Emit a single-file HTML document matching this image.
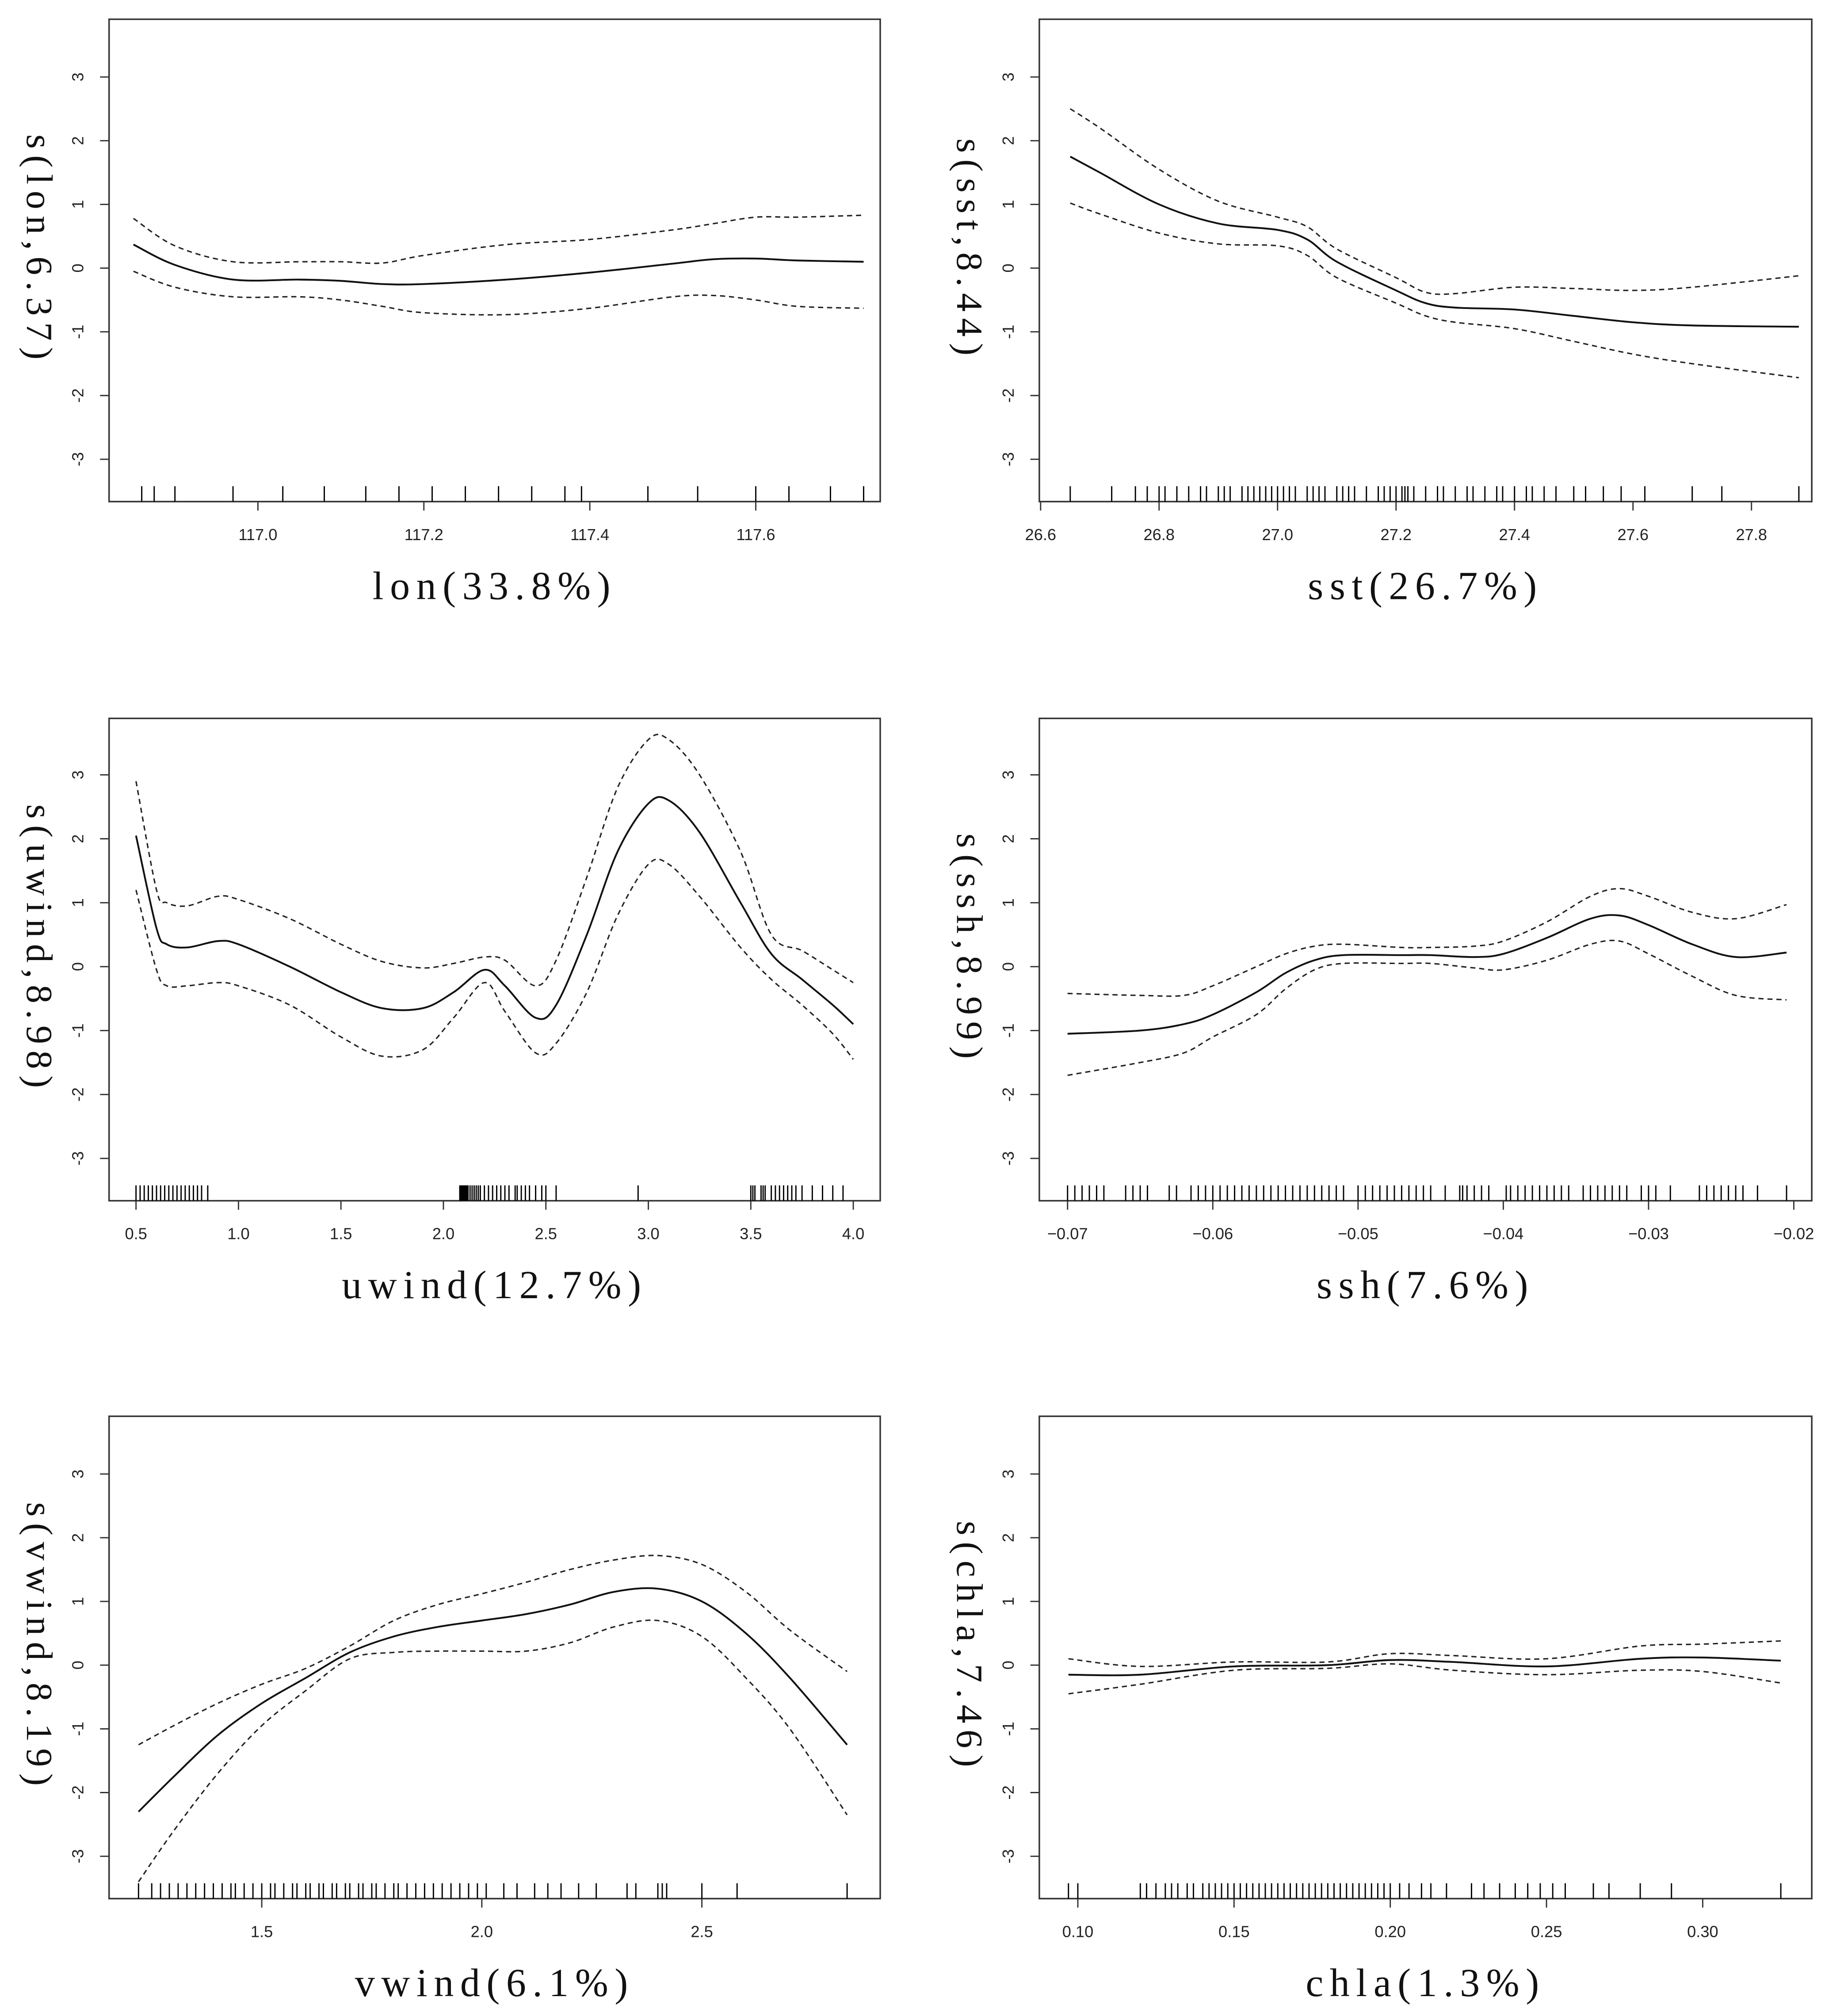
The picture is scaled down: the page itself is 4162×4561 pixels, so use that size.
<!DOCTYPE html>
<html><head><meta charset="utf-8">
<style>
html,body{margin:0;padding:0;background:#fff;}
svg{display:block;}
.tk{font-family:"Liberation Sans",sans-serif;font-size:12.5px;fill:#222;}
.xl{font-family:"Liberation Serif","Noto Serif CJK SC",serif;font-size:31px;fill:#111;letter-spacing:5px;}
.yl{font-family:"Liberation Serif","Noto Serif CJK SC",serif;font-size:29px;fill:#111;letter-spacing:5px;}
</style></head>
<body>
<svg id="fig" xmlns="http://www.w3.org/2000/svg" width="4162" height="4561" viewBox="0 0 1434 1571.5" preserveAspectRatio="none"></svg>
<script>
// ---- lon ----
const lonX=[116.85,116.9,116.97,117.05,117.1,117.15,117.2,117.3,117.4,117.5,117.55,117.6,117.65,117.73];
const lonFit=[0.37,0.05,-0.18,-0.18,-0.2,-0.25,-0.25,-0.18,-0.07,0.07,0.14,0.15,0.12,0.1];
const lonUp=[0.78,0.35,0.1,0.1,0.1,0.08,0.2,0.37,0.45,0.6,0.7,0.8,0.8,0.83];
const lonLo=[-0.05,-0.3,-0.45,-0.45,-0.5,-0.6,-0.7,-0.73,-0.63,-0.45,-0.43,-0.5,-0.6,-0.63];
const lonRug=[116.86,116.875,116.9,116.97,117.03,117.08,117.13,117.17,117.21,117.25,117.29,117.33,117.37,117.39,117.47,117.53,117.6,117.64,117.69,117.73];
const lonTicks=[117.0,117.2,117.4,117.6];
// ---- sst ----
const sstX=[26.65,26.7,26.8,26.9,27.0,27.05,27.1,27.2,27.25,27.3,27.4,27.5,27.6,27.7,27.88];
const sstFit=[1.75,1.5,1.0,0.7,0.6,0.45,0.1,-0.35,-0.55,-0.62,-0.65,-0.75,-0.85,-0.9,-0.92];
const sstUp=[2.5,2.2,1.55,1.05,0.8,0.65,0.3,-0.15,-0.38,-0.4,-0.3,-0.32,-0.35,-0.3,-0.12];
const sstLo=[1.02,0.85,0.55,0.38,0.35,0.2,-0.15,-0.55,-0.75,-0.85,-0.95,-1.15,-1.35,-1.5,-1.72];
const sstRug=[26.65,26.72,26.76,26.78,26.8,26.81,26.83,26.85,26.87,26.88,26.9,26.91,26.92,26.94,26.95,26.96,26.97,26.98,26.99,27.0,27.01,27.02,27.03,27.05,27.06,27.07,27.08,27.1,27.11,27.12,27.13,27.15,27.17,27.18,27.19,27.2,27.21,27.215,27.22,27.23,27.25,27.27,27.28,27.3,27.32,27.33,27.35,27.37,27.38,27.4,27.42,27.43,27.45,27.47,27.5,27.52,27.55,27.58,27.62,27.7,27.75,27.88];
const sstTicks=[26.6,26.8,27.0,27.2,27.4,27.6,27.8];
// ---- uwind ----
const uwX=[0.5,0.6,0.65,0.75,0.9,1.0,1.25,1.5,1.7,1.9,2.05,2.2,2.3,2.45,2.55,2.7,2.85,3.0,3.1,3.25,3.45,3.6,3.75,3.9,4.0];
const uwFit=[2.05,0.6,0.35,0.3,0.4,0.35,0,-0.4,-0.65,-0.65,-0.4,-0.05,-0.3,-0.8,-0.6,0.5,1.8,2.55,2.6,2.1,1.0,0.2,-0.2,-0.6,-0.9];
const uwUp=[2.9,1.2,1.0,0.95,1.1,1.05,0.75,0.35,0.08,-0.02,0.05,0.15,0.1,-0.3,0.1,1.4,2.8,3.55,3.55,3.0,1.8,0.5,0.25,-0.05,-0.25];
const uwLo=[1.2,-0.05,-0.3,-0.3,-0.25,-0.3,-0.6,-1.1,-1.4,-1.3,-0.8,-0.25,-0.7,-1.35,-1.2,-0.4,0.8,1.6,1.6,1.1,0.3,-0.2,-0.6,-1.05,-1.45];
const uwRug=[0.5,0.52,0.54,0.56,0.58,0.6,0.62,0.64,0.66,0.68,0.7,0.72,0.74,0.76,0.78,0.8,0.82,0.85,2.08,2.085,2.09,2.095,2.1,2.105,2.11,2.115,2.12,2.13,2.14,2.15,2.16,2.17,2.18,2.2,2.22,2.24,2.26,2.28,2.3,2.32,2.35,2.36,2.38,2.4,2.42,2.45,2.48,2.5,2.55,2.95,3.5,3.51,3.52,3.55,3.56,3.57,3.6,3.62,3.64,3.66,3.68,3.7,3.72,3.75,3.8,3.85,3.9,3.95];
const uwTicks=[0.5,1.0,1.5,2.0,2.5,3.0,3.5,4.0];
// ---- ssh ----
const shX=[-0.07,-0.065,-0.062,-0.06,-0.057,-0.055,-0.053,-0.051,-0.047,-0.045,-0.042,-0.04,-0.037,-0.034,-0.032,-0.03,-0.027,-0.024,-0.0205];
const shFit=[-1.05,-1.0,-0.9,-0.75,-0.4,-0.1,0.1,0.18,0.18,0.18,0.15,0.2,0.45,0.75,0.8,0.65,0.35,0.15,0.22];
const shUp=[-0.42,-0.45,-0.45,-0.3,0,0.2,0.32,0.35,0.3,0.3,0.32,0.4,0.7,1.1,1.22,1.1,0.85,0.75,0.97];
const shLo=[-1.7,-1.5,-1.35,-1.1,-0.75,-0.35,-0.05,0.05,0.05,0.05,-0.02,-0.05,0.1,0.35,0.4,0.2,-0.15,-0.45,-0.52];
const shRug=[-0.07,-0.0695,-0.069,-0.0685,-0.068,-0.0675,-0.066,-0.0655,-0.065,-0.0645,-0.063,-0.0625,-0.0615,-0.061,-0.0605,-0.06,-0.0595,-0.059,-0.0585,-0.058,-0.0575,-0.057,-0.0565,-0.056,-0.0555,-0.055,-0.0545,-0.054,-0.0535,-0.053,-0.0525,-0.052,-0.0515,-0.051,-0.05,-0.0495,-0.049,-0.0485,-0.048,-0.0475,-0.047,-0.0465,-0.046,-0.0455,-0.045,-0.044,-0.043,-0.0428,-0.0425,-0.042,-0.0415,-0.041,-0.0398,-0.0395,-0.039,-0.0385,-0.038,-0.0375,-0.037,-0.0365,-0.036,-0.0355,-0.0345,-0.034,-0.0335,-0.033,-0.0325,-0.032,-0.0315,-0.0305,-0.03,-0.0295,-0.0285,-0.0265,-0.026,-0.0255,-0.025,-0.0245,-0.024,-0.0235,-0.0225,-0.0205];
const shTicks=[-0.07,-0.06,-0.05,-0.04,-0.03,-0.02];
const shLabels=["\u22120.07","\u22120.06","\u22120.05","\u22120.04","\u22120.03","\u22120.02"];
// ---- vwind ----
const vwX=[1.22,1.3,1.4,1.5,1.6,1.7,1.8,1.9,2.0,2.1,2.2,2.3,2.4,2.5,2.6,2.7,2.83];
const vwFit=[-2.3,-1.75,-1.1,-0.6,-0.2,0.2,0.45,0.6,0.7,0.8,0.95,1.15,1.2,1.0,0.5,-0.2,-1.25];
const vwUp=[-1.25,-0.95,-0.6,-0.3,-0.05,0.3,0.7,0.95,1.12,1.3,1.5,1.65,1.72,1.58,1.15,0.55,-0.1];
const vwLo=[-3.4,-2.6,-1.7,-0.95,-0.4,0.1,0.2,0.22,0.22,0.22,0.35,0.6,0.7,0.45,-0.2,-1.0,-2.35];
const vwRug=[1.22,1.25,1.27,1.29,1.31,1.33,1.35,1.37,1.39,1.41,1.43,1.44,1.46,1.48,1.5,1.52,1.53,1.55,1.57,1.58,1.6,1.61,1.63,1.64,1.66,1.67,1.69,1.7,1.72,1.73,1.75,1.76,1.78,1.8,1.81,1.83,1.85,1.87,1.89,1.91,1.93,1.95,1.97,1.99,2.01,2.05,2.08,2.12,2.15,2.18,2.22,2.26,2.33,2.35,2.4,2.41,2.42,2.5,2.58,2.83];
const vwTicks=[1.5,2.0,2.5];
// ---- chla ----
const chX=[0.097,0.12,0.15,0.18,0.2,0.22,0.25,0.28,0.3,0.325];
const chFit=[-0.15,-0.15,-0.02,0,0.08,0.05,-0.02,0.1,0.12,0.07];
const chUp=[0.1,-0.02,0.05,0.05,0.18,0.15,0.1,0.3,0.33,0.38];
const chLo=[-0.45,-0.3,-0.08,-0.05,0.02,-0.08,-0.15,-0.08,-0.1,-0.28];
const chRug=[0.097,0.1,0.12,0.122,0.125,0.128,0.13,0.132,0.135,0.137,0.14,0.142,0.144,0.146,0.148,0.15,0.152,0.154,0.156,0.158,0.16,0.162,0.164,0.166,0.168,0.17,0.172,0.174,0.176,0.178,0.18,0.182,0.184,0.186,0.188,0.19,0.192,0.194,0.196,0.198,0.2,0.203,0.206,0.21,0.213,0.218,0.226,0.23,0.235,0.24,0.244,0.248,0.252,0.256,0.265,0.27,0.28,0.29,0.325];
const chTicks=[0.10,0.15,0.20,0.25,0.30];
const yTicks=[-3,-2,-1,0,1,2,3];

const NS="http://www.w3.org/2000/svg";
const fig=document.getElementById('fig');
function mk(tag,attrs,parent){const e=document.createElementNS(NS,tag);for(const k in attrs)e.setAttribute(k,attrs[k]);parent.appendChild(e);return e;}

const panels=[
 {id:'lon',x0:85,x1:686,y0:15,y1:391,y3:60,yM3:358,ref:[117.0,201,117.6,589],X:lonX,F:lonFit,U:lonUp,L:lonLo,R:lonRug,T:lonTicks,TL:null,xl:'lon(33.8%)',yl:'s(lon,6.37)'},
 {id:'sst',x0:810,x1:1412,y0:15,y1:391,y3:60,yM3:358,ref:[26.6,811,27.8,1365],X:sstX,F:sstFit,U:sstUp,L:sstLo,R:sstRug,T:sstTicks,TL:null,xl:'sst(26.7%)',yl:'s(sst,8.44)'},
 {id:'uwind',x0:85,x1:686,y0:560,y1:936,y3:604,yM3:903,ref:[0.5,106,4.0,665],X:uwX,F:uwFit,U:uwUp,L:uwLo,R:uwRug,T:uwTicks,TL:null,xl:'uwind(12.7%)',yl:'s(uwind,8.98)'},
 {id:'ssh',x0:810,x1:1412,y0:560,y1:936,y3:604,yM3:903,ref:[-0.07,832,-0.02,1398],X:shX,F:shFit,U:shUp,L:shLo,R:shRug,T:shTicks,TL:shLabels,xl:'ssh(7.6%)',yl:'s(ssh,8.99)'},
 {id:'vwind',x0:85,x1:686,y0:1104,y1:1480,y3:1149,yM3:1447,ref:[1.5,204,2.5,547],X:vwX,F:vwFit,U:vwUp,L:vwLo,R:vwRug,T:vwTicks,TL:null,xl:'vwind(6.1%)',yl:'s(vwind,8.19)'},
 {id:'chla',x0:810,x1:1412,y0:1104,y1:1480,y3:1149,yM3:1447,ref:[0.10,840,0.30,1327],X:chX,F:chFit,U:chUp,L:chLo,R:chRug,T:chTicks,TL:null,xl:'chla(1.3%)',yl:'s(chla,7.46)'}
];

panels.forEach(p=>{
  const g=mk('g',{},fig);
  
  
  const sx=v=>p.ref[1]+(v-p.ref[0])*(p.ref[3]-p.ref[1])/(p.ref[2]-p.ref[0]);
  const sy=v=>p.y3+(3-v)*(p.yM3-p.y3)/6;
  const box=mk('rect',{x:p.x0,y:p.y0,width:p.x1-p.x0,height:p.y1-p.y0,fill:'none',stroke:'#333','stroke-width':1.2},g);
  
  
  yTicks.forEach(t=>{
    const y=sy(t);
    mk('line',{x1:p.x0-7,x2:p.x0,y1:y,y2:y,stroke:'#333','stroke-width':1},g);
    const tx=mk('text',{class:'tk','text-anchor':'middle',transform:`translate(${p.x0-20},${y}) rotate(-90)`},g);
    
    
    tx.textContent=String(t);
  });
  p.T.forEach((t,i)=>{
    const x=sx(t);
    mk('line',{x1:x,x2:x,y1:p.y1,y2:p.y1+7,stroke:'#333','stroke-width':1},g);
    const tx=mk('text',{class:'tk','text-anchor':'middle',x:x,y:p.y1+30},g);
    
    
    tx.textContent=p.TL?p.TL[i]:(t.toFixed(p.id==='chla'?2:1));
  });
  const rug=mk('g',{},g);
  
  
  p.R.forEach(v=>{const x=sx(v);mk('line',{x1:x,x2:x,y1:p.y1-12,y2:p.y1,stroke:'#000','stroke-width':1},rug);});
  const path=arr=>{
    const pts=p.X.map((x,i)=>[sx(x),sy(arr[i])]);
    let d='M'+pts[0][0]+','+pts[0][1];
    for(let i=0;i<pts.length-1;i++){
      const p0=pts[Math.max(0,i-1)],p1=pts[i],p2=pts[i+1],p3=pts[Math.min(pts.length-1,i+2)];
      const c1=[p1[0]+(p2[0]-p0[0])/6,p1[1]+(p2[1]-p0[1])/6];
      const c2=[p2[0]-(p3[0]-p1[0])/6,p2[1]-(p3[1]-p1[1])/6];
      d+=` C${c1[0]},${c1[1]} ${c2[0]},${c2[1]} ${p2[0]},${p2[1]}`;
    }
    return d;
  };
  const up=mk('path',{d:path(p.U),fill:'none',stroke:'#222','stroke-width':1.1,'stroke-dasharray':'4,3'},g);
  
  
  const lo=mk('path',{d:path(p.L),fill:'none',stroke:'#222','stroke-width':1.1,'stroke-dasharray':'4,3'},g);
  
  
  const fit=mk('path',{d:path(p.F),fill:'none',stroke:'#111','stroke-width':1.4},g);
  
  
  const xl=mk('text',{class:'xl','text-anchor':'middle',x:(p.x0+p.x1)/2,y:p.y1+76},g);
  
  
  xl.textContent=p.xl;
  const yl=mk('text',{class:'yl','text-anchor':'middle',transform:`translate(${p.x0-64},${(p.y0+p.y1)/2-8}) rotate(90)`},g);
  
  
  yl.textContent=p.yl;
});
</script>
</body></html>
